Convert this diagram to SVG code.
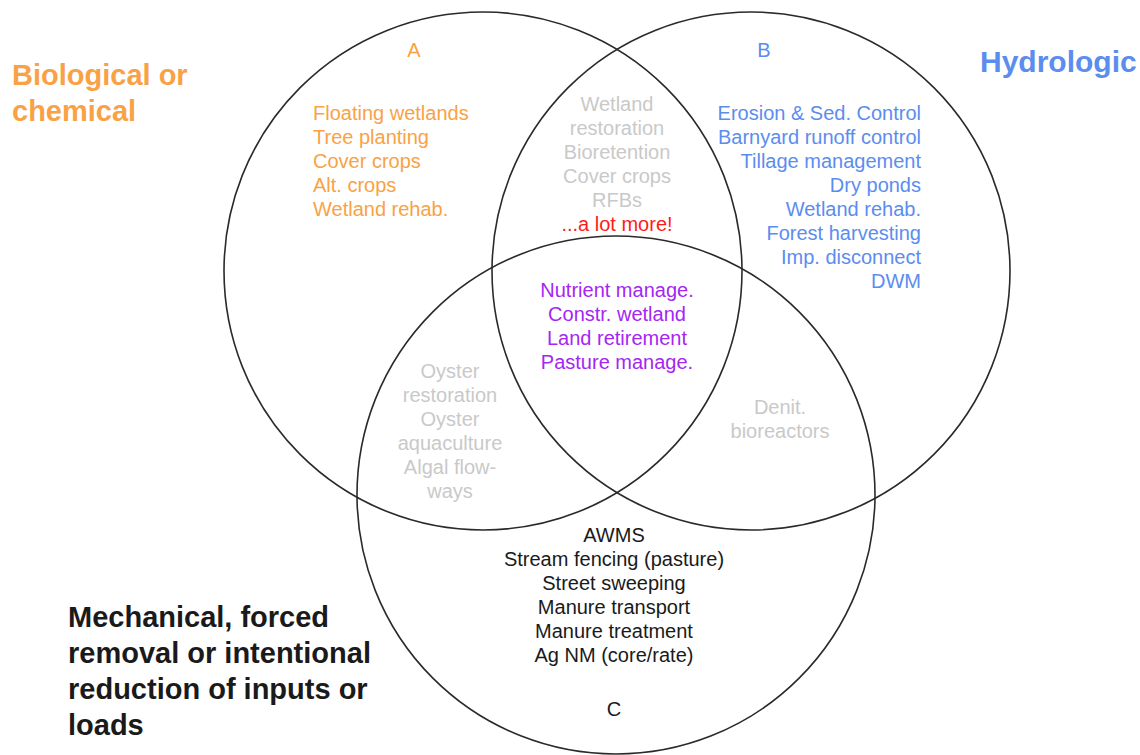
<svg xmlns="http://www.w3.org/2000/svg" width="1140" height="755" viewBox="0 0 1140 755">
<style>
  text { font-family: "Liberation Sans", Arial, sans-serif; font-size: 20px; }
  .ring { fill: none; stroke: #2a2a2a; stroke-width: 1.6; }
  .org { fill: #F9A245; }
  .blu { fill: #5B8DEF; }
  .gry { fill: #C9C9C9; }
  .pur { fill: #A526F2; }
  .red { fill: #FF1A1A; }
  .blk { fill: #1a1a1a; }
  .big { font-weight: bold; font-size: 29px; }
  .mid { text-anchor: middle; }
  .end { text-anchor: end; }
</style>
<rect width="1140" height="755" fill="#ffffff"/>

<g id="circle-a">
  <circle class="ring" cx="483" cy="271" r="259"/>
  <text class="org mid" x="414" y="57">A</text>
  <text class="org" x="313" y="120">Floating wetlands</text>
  <text class="org" x="313" y="144">Tree planting</text>
  <text class="org" x="313" y="168">Cover crops</text>
  <text class="org" x="313" y="192">Alt. crops</text>
  <text class="org" x="313" y="216">Wetland rehab.</text>
</g>

<g id="circle-b">
  <circle class="ring" cx="751" cy="271" r="259"/>
  <text class="blu mid" x="764" y="57">B</text>
  <text class="blu end" x="921" y="120">Erosion &amp; Sed. Control</text>
  <text class="blu end" x="921" y="144">Barnyard runoff control</text>
  <text class="blu end" x="921" y="168">Tillage management</text>
  <text class="blu end" x="921" y="192">Dry ponds</text>
  <text class="blu end" x="921" y="216">Wetland rehab.</text>
  <text class="blu end" x="921" y="240">Forest harvesting</text>
  <text class="blu end" x="921" y="264">Imp. disconnect</text>
  <text class="blu end" x="921" y="288">DWM</text>
</g>

<g id="circle-c">
  <circle class="ring" cx="616" cy="495" r="259"/>
  <text class="blk mid" x="614" y="542">AWMS</text>
  <text class="blk mid" x="614" y="566">Stream fencing (pasture)</text>
  <text class="blk mid" x="614" y="590">Street sweeping</text>
  <text class="blk mid" x="614" y="614">Manure transport</text>
  <text class="blk mid" x="614" y="638">Manure treatment</text>
  <text class="blk mid" x="614" y="662">Ag NM (core/rate)</text>
  <text class="blk mid" x="614" y="716">C</text>
</g>

<g id="overlap-ab">
  <text class="gry mid" x="617" y="111">Wetland</text>
  <text class="gry mid" x="617" y="135">restoration</text>
  <text class="gry mid" x="617" y="159">Bioretention</text>
  <text class="gry mid" x="617" y="183">Cover crops</text>
  <text class="gry mid" x="617" y="207">RFBs</text>
  <text class="red mid" x="617" y="231">...a lot more!</text>
</g>

<g id="overlap-abc">
  <text class="pur mid" x="617" y="297">Nutrient manage.</text>
  <text class="pur mid" x="617" y="321">Constr. wetland</text>
  <text class="pur mid" x="617" y="345">Land retirement</text>
  <text class="pur mid" x="617" y="369">Pasture manage.</text>
</g>

<g id="overlap-ac">
  <text class="gry mid" x="450" y="378">Oyster</text>
  <text class="gry mid" x="450" y="402">restoration</text>
  <text class="gry mid" x="450" y="426">Oyster</text>
  <text class="gry mid" x="450" y="450">aquaculture</text>
  <text class="gry mid" x="450" y="474">Algal flow-</text>
  <text class="gry mid" x="450" y="498">ways</text>
</g>

<g id="overlap-bc">
  <text class="gry mid" x="780" y="414">Denit.</text>
  <text class="gry mid" x="780" y="438">bioreactors</text>
</g>

<g id="label-biological">
  <text class="org big" x="12" y="85">Biological or</text>
  <text class="org big" x="12" y="121">chemical</text>
</g>

<g id="label-hydrologic">
  <text class="blu big" x="980" y="72" style="font-size:30px">Hydrologic</text>
</g>

<g id="label-mechanical">
  <text class="blk big" x="68" y="627">Mechanical, forced</text>
  <text class="blk big" x="68" y="663">removal or intentional</text>
  <text class="blk big" x="68" y="699">reduction of inputs or</text>
  <text class="blk big" x="68" y="735">loads</text>
</g>

<g id="connectors"></g>
</svg>
